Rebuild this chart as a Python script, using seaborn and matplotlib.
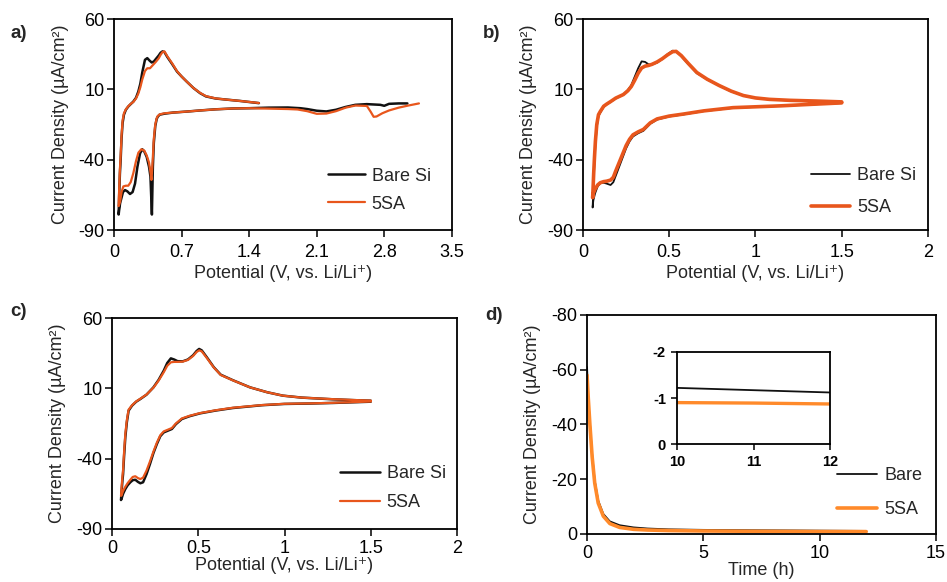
import matplotlib
matplotlib.use("Agg")
import matplotlib.pyplot as plt
import seaborn as sns

# ---------------- data ----------------
# (a) first CV cycle: potential (V vs. Li/Li+) and current density (uA/cm2)
a_bare_v = [3.04, 2.95, 2.85, 2.80, 2.76, 2.62, 2.50, 2.40, 2.30, 2.20,
            2.10, 2.00, 1.93, 1.80, 1.60, 1.40, 1.23, 1.05, 0.89, 0.75,
            0.61, 0.52, 0.47, 0.45, 0.44, 0.425, 0.41, 0.40, 0.395, 0.39,
            0.385, 0.375, 0.36, 0.336, 0.31, 0.29, 0.267, 0.24, 0.215, 0.19,
            0.163, 0.135, 0.111, 0.09, 0.075, 0.06, 0.05, 0.045, 0.047, 0.052,
            0.058, 0.066, 0.075, 0.086, 0.10, 0.12, 0.145, 0.17, 0.197, 0.225,
            0.249, 0.27, 0.29, 0.318, 0.342, 0.365, 0.388, 0.41, 0.43, 0.46,
            0.48, 0.50, 0.52, 0.55, 0.60, 0.65, 0.70, 0.75, 0.82, 0.89,
            0.95, 1.05, 1.15, 1.30, 1.50]
a_bare_j = [0.0, 0.0, -0.3, -1.7, -1.0, -0.5, -1.0, -2.5, -4.5, -5.7,
            -5.2, -4.0, -3.4, -2.9, -3.0, -3.4, -3.6, -4.2, -5.0, -5.8,
            -6.5, -7.3, -8.0, -9.5, -11, -16, -28, -45, -62, -79,
            -70, -52, -45, -38, -34, -32.6, -35.5, -45, -57, -63,
            -64.4, -62.5, -61.6, -63, -67, -71, -76, -79, -74, -62,
            -50, -40, -25, -14, -8, -4.5, -2.2, -0.5, 1.3, 4.0,
            8.4, 14, 22, 31, 32.2, 30.5, 29.1, 29.8, 31.5, 34,
            36, 37, 36.5, 33, 28, 22.7, 19, 15.6, 11, 7.3,
            5, 3.5, 2.8, 1.8, 0.2]
a_sa_v = [3.16, 3.05, 2.95, 2.85, 2.78, 2.72, 2.69, 2.66, 2.62, 2.50, 2.40, 2.30, 2.20,
          2.10, 2.00, 1.90, 1.80, 1.60, 1.40, 1.23, 1.05, 0.89, 0.75,
          0.61, 0.52, 0.47, 0.45, 0.44, 0.425, 0.41, 0.40, 0.39, 0.385,
          0.377, 0.36, 0.336, 0.31, 0.28, 0.25, 0.225, 0.197, 0.17, 0.145,
          0.12, 0.094, 0.075, 0.06, 0.05, 0.045, 0.047, 0.052,
          0.058, 0.066, 0.075, 0.086, 0.10, 0.12, 0.145, 0.17, 0.197, 0.225,
          0.249, 0.27, 0.29, 0.318, 0.342, 0.37, 0.39, 0.41, 0.43, 0.46,
          0.48, 0.50, 0.52, 0.55, 0.60, 0.65, 0.70, 0.75, 0.82, 0.89,
          0.95, 1.05, 1.15, 1.30, 1.50]
a_sa_j = [0.0, -1.5, -3.0, -5.0, -7.0, -9.3, -9.5, -6.0, -1.8, -1.5, -3.0, -5.5, -7.2,
          -7.4, -5.5, -4.3, -4.0, -3.7, -3.4, -3.6, -4.2, -5.0, -5.8,
          -6.5, -7.0, -7.8, -9.0, -10.5, -15, -25, -38, -50, -54.4,
          -49.7, -42, -37, -33.5, -32.6, -35, -41, -49.7, -56, -58.5,
          -58.5, -59, -63, -70, -72, -73, -68, -58,
          -47, -37, -23, -12, -7, -4.2, -2.0, -0.3, 1.0, 3.5,
          7, 11.5, 17, 23, 25, 25, 26.5, 28, 29.5, 32,
          34.5, 36.5, 37, 33.5, 28.5, 23, 19, 15.6, 11, 7.5,
          5.2, 3.6, 2.8, 1.8, 0.3]

# (b) later CV cycle
b_v = [1.50, 1.40, 1.28, 1.15, 1.00, 0.87, 0.70, 0.58, 0.50, 0.43,
       0.39, 0.35, 0.32, 0.29, 0.27, 0.25, 0.23, 0.21, 0.19, 0.176,
       0.16, 0.137, 0.12, 0.10, 0.085, 0.07, 0.06, 0.056,
       0.058, 0.062, 0.066, 0.072, 0.08, 0.09, 0.10, 0.12, 0.137, 0.16,
       0.19, 0.234, 0.26, 0.28, 0.30, 0.32, 0.34, 0.36, 0.38, 0.40,
       0.43, 0.46, 0.49, 0.52, 0.54, 0.57, 0.61, 0.66, 0.72, 0.79,
       0.86, 0.93, 1.00, 1.08, 1.20, 1.35, 1.50]
b_bare_j = [0.2, -0.3, -1.0, -1.8, -2.5, -3.2, -5.5, -7.9, -9.3, -11.5,
            -14.5, -19.5, -21.2, -23.5, -27, -32, -38.5, -45, -51.5, -56,
            -58, -57, -56.4, -56.8, -59, -64, -69, -74,
            -68, -55, -44, -30, -17, -9, -6.7, -2.5, -0.8, 1.0,
            3.5, 6.3, 9.5, 13, 19, 25, 29.9, 29.5, 27.8, 27.6,
            29, 31.5, 35, 37.5, 37, 33.5, 28, 21.5, 17, 12.5,
            8.5, 5.5, 3.8, 2.8, 2.1, 1.6, 1.0]
b_sa_j = [0.4, -0.2, -0.9, -1.7, -2.4, -3.0, -5.3, -7.6, -9.0, -11.0,
          -13.8, -18.5, -20.2, -22.3, -25.5, -30, -36, -42, -48, -52.5,
          -54.5, -55.3, -55.6, -56.4, -58, -61, -64, -67,
          -62, -50, -40, -27, -15, -8, -5.8, -2.0, -0.5, 1.3,
          3.8, 6.3, 9, 12, 16.5, 21.5, 25.2, 26.5, 27, 27.8,
          29.5, 31.8, 34.5, 36.8, 37, 34, 28.5, 22, 17.2, 12.7,
          8.7, 5.6, 3.9, 2.9, 2.2, 1.7, 1.1]

# (c) further CV cycle
c_v = [1.50, 1.40, 1.28, 1.15, 1.00, 0.87, 0.70, 0.60, 0.51, 0.45,
       0.405, 0.37, 0.347, 0.32, 0.30, 0.28, 0.26, 0.24, 0.22, 0.20,
       0.18, 0.164, 0.15, 0.135, 0.12, 0.106, 0.09, 0.077, 0.064, 0.055,
       0.052, 0.055, 0.06, 0.064, 0.07, 0.077, 0.086, 0.096, 0.116, 0.14,
       0.164, 0.20, 0.24, 0.27, 0.30, 0.32, 0.341, 0.36, 0.38, 0.41,
       0.44, 0.47, 0.49, 0.505, 0.52, 0.55, 0.59, 0.63, 0.70, 0.80,
       0.90, 0.99, 1.10, 1.28, 1.40, 1.50]
c_bare_j = [0.5, 0.1, -0.4, -0.8, -1.1, -2.0, -4.0, -5.8, -7.8, -9.8,
            -11.8, -15.5, -18.9, -20.3, -21.3, -24, -29.6, -36, -43.8, -51,
            -56.8, -57.5, -56.5, -55, -55.3, -56.8, -59, -61.6, -65, -68.5,
            -69.4, -64, -56, -51, -38, -24.8, -14, -5.9, -2.3, 0.5,
            2.4, 5.5, 10.7, 16, 22.6, 28, 31.3, 30.5, 29.3, 29.2,
            30.5, 33.5, 36.5, 38, 37, 32, 25, 19.7, 15.8, 10.7,
            7.2, 4.8, 3.4, 2.2, 1.6, 1.2]
c_sa_j = [0.6, 0.2, -0.3, -0.7, -1.0, -1.9, -3.8, -5.6, -7.6, -9.5,
          -11.4, -15, -18.2, -19.6, -20.6, -23.3, -28.6, -35, -42, -48.5,
          -53.5, -54.5, -53.8, -52.5, -53, -55, -57.5, -60, -63, -66,
          -66.5, -61, -53, -48, -35, -22.5, -12.5, -5.2, -2.0, 0.7,
          2.6, 5.6, 10.5, 15.5, 21.5, 26, 28.5, 28.8, 28.8, 29,
          30.2, 33, 35.8, 37, 36.3, 31.5, 24.8, 19.5, 15.7, 10.7,
          7.2, 4.8, 3.4, 2.3, 1.7, 1.3]

# (d) potentiostatic hold: time (h) and current density (uA/cm2)
d_t = [0, 0.05, 0.12, 0.22, 0.33, 0.48, 0.7, 0.98, 1.4, 2.0, 2.6, 3.5,
       5, 7, 9, 10, 11, 12]
d_bare_j = [-61, -50, -41, -29, -19.5, -12.2, -7.3, -4.6, -3.2, -2.4, -2.0, -1.7,
            -1.5, -1.38, -1.28, -1.22, -1.17, -1.12]
d_sa_j = [-58, -50, -40.3, -28.2, -18.6, -11.3, -6.5, -3.8, -2.4, -1.7, -1.45, -1.25,
          -1.1, -1.0, -0.94, -0.90, -0.89, -0.87]

cv_xticks = [0, 0.5, 1, 1.5, 2]
cv_xticklabels = ["0", "0.5", "1", "1.5", "2"]
a_xticks = [0, 0.7, 1.4, 2.1, 2.8, 3.5]
a_xticklabels = ["0", "0.7", "1.4", "2.1", "2.8", "3.5"]
cv_yticks = [-90, -40, 10, 60]
d_xticks = [0, 5, 10, 15]
d_yticks = [0, -20, -40, -60, -80]
inset_xticks = [10, 11, 12]
inset_yticks = [0, -1, -2]

# ---------------- style ----------------
sns.set_style("ticks")
plt.rcParams["font.family"] = ["Liberation Sans", "DejaVu Sans"]
plt.rcParams["axes.linewidth"] = 1.3
plt.rcParams["axes.unicode_minus"] = False

BLACK = "#111111"
ORANGE = "#E8561C"
ORANGE_D = "#FF8A2A"
FS = 13
YLAB = "Current Density (µA/cm²)"
XLAB = "Potential (V, vs. Li/Li⁺)"

fig = plt.figure(figsize=(9.47, 5.82), dpi=100)


def frame(ax, xpad=5):
    for s in ax.spines.values():
        s.set_visible(True)
        s.set_color("black")
        s.set_linewidth(1.3)
    ax.tick_params(axis="x", direction="out", length=5, width=1.1,
                   labelsize=FS, pad=xpad, colors="black")
    ax.tick_params(axis="y", direction="out", length=5, width=1.1,
                   labelsize=FS, pad=2, colors="black")


def cv_panel(rect, v1, j1, v2, j2, lw1, lw2, xticks, xlabels, xmax, leg,
             xlpad, xpad):
    ax = fig.add_axes(rect)
    sns.lineplot(x=v1, y=j1, sort=False, estimator=None, color=BLACK,
                 linewidth=lw1, label="Bare Si", ax=ax)
    sns.lineplot(x=v2, y=j2, sort=False, estimator=None, color=ORANGE,
                 linewidth=lw2, label="5SA", ax=ax)
    ax.set_xlim(0, xmax)
    ax.set_ylim(-90, 60)
    ax.set_xticks(xticks)
    ax.set_xticklabels(xlabels)
    ax.set_yticks(cv_yticks)
    ax.set_xlabel(XLAB, fontsize=FS, labelpad=xlpad)
    ax.set_ylabel(YLAB, fontsize=FS, labelpad=7)
    frame(ax, xpad)
    ax.legend(loc="upper left", bbox_to_anchor=leg[:2], frameon=False,
              borderpad=0, borderaxespad=0, handlelength=leg[2],
              handletextpad=0.38, labelspacing=leg[3], fontsize=FS)
    return ax


ax_a = cv_panel([0.1207, 0.6048, 0.3563, 0.3625], a_bare_v, a_bare_j, a_sa_v, a_sa_j,
                1.8, 1.6, a_xticks, a_xticklabels, 3.5, (0.633, 0.295, 2.05, 0.6), 3, 5)
ax_b = cv_panel([0.6156, 0.6048, 0.3643, 0.3625], b_v, b_bare_j, b_v, b_sa_j,
                1.3, 2.6, cv_xticks, cv_xticklabels, 2, (0.66, 0.298, 2.2, 0.82), 3, 5)
ax_c = cv_panel([0.1183, 0.0911, 0.3643, 0.3625], c_v, c_bare_j, c_v, c_sa_j,
                1.8, 1.6, cv_xticks, cv_xticklabels, 2, (0.661, 0.303, 2.2, 0.68), 0, 3)

# (d) current decay with inset
ax_d = fig.add_axes([0.6199, 0.0825, 0.3685, 0.3763])
sns.lineplot(x=d_t, y=d_bare_j, sort=False, estimator=None, color=BLACK,
             linewidth=1.3, label="Bare", ax=ax_d)
sns.lineplot(x=d_t, y=d_sa_j, sort=False, estimator=None, color=ORANGE_D,
             linewidth=2.6, label="5SA", ax=ax_d)
ax_d.set_xlim(0, 15)
ax_d.set_ylim(0, -80)
ax_d.set_xticks(d_xticks)
ax_d.set_yticks(d_yticks)
ax_d.set_xlabel("Time (h)", fontsize=FS, labelpad=0)
ax_d.set_ylabel(YLAB, fontsize=FS, labelpad=7)
frame(ax_d, xpad=3)
ax_d.legend(loc="upper left", bbox_to_anchor=(0.715, 0.306), frameon=False,
            borderpad=0, borderaxespad=0, handlelength=2.25,
            handletextpad=0.38, labelspacing=0.95, fontsize=FS)

ax_in = fig.add_axes([0.7149, 0.2371, 0.1616, 0.1581])
sns.lineplot(x=d_t, y=d_bare_j, sort=False, estimator=None, color=BLACK,
             linewidth=1.3, legend=False, ax=ax_in)
sns.lineplot(x=d_t, y=d_sa_j, sort=False, estimator=None, color=ORANGE_D,
             linewidth=2.4, legend=False, ax=ax_in)
ax_in.set_xlim(10, 12)
ax_in.set_ylim(0, -2)
ax_in.set_xticks(inset_xticks)
ax_in.set_yticks(inset_yticks)
ax_in.set_xlabel("")
ax_in.set_ylabel("")
for s in ax_in.spines.values():
    s.set_visible(True)
    s.set_color("black")
    s.set_linewidth(1.3)
ax_in.tick_params(direction="out", length=4, width=1.1, labelsize=10.5,
                  pad=4, colors="black")
for lab in ax_in.get_xticklabels() + ax_in.get_yticklabels():
    lab.set_fontweight("bold")

# panel letters
for txt, x, y in [("a)", 10, 34), ("b)", 483, 34), ("c)", 10, 311), ("d)", 485, 315)]:
    fig.text(x / 947, 1 - y / 582, txt, fontsize=13.5, fontweight="bold",
             va="center", ha="left")

fig.savefig("out.png", dpi=100)
